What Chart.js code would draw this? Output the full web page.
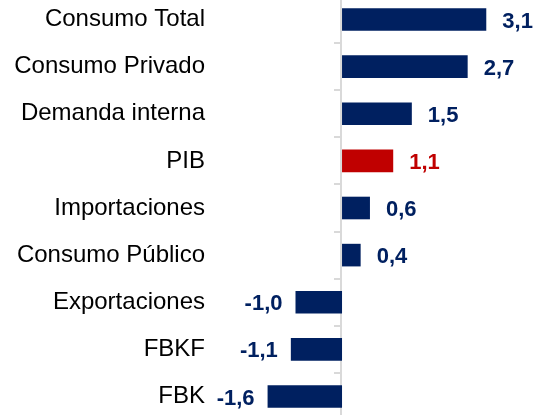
<!DOCTYPE html>
<html lang="es">
<head>
<meta charset="utf-8">
<title>Contribuciones</title>
<script src="https://cdn.jsdelivr.net/npm/chart.js@4/dist/chart.umd.min.js"></script>
<style>
  html, body { margin: 0; padding: 0; background: #fff; overflow: hidden; }
  #wrap { position: absolute; left: 0; top: -4px; width: 537px; height: 424px; }
</style>
</head>
<body>
<div id="wrap"><canvas id="grafico" width="537" height="424"></canvas></div>
<script>
// Datos del gráfico
const categorias = ['Consumo Total', 'Consumo Privado', 'Demanda interna', 'PIB', 'Importaciones',
  'Consumo Público', 'Exportaciones', 'FBKF', 'FBK'];
const valores = [3.1, 2.7, 1.5, 1.1, 0.6, 0.4, -1.0, -1.1, -1.6];
const destacado = 'PIB';

const azul = '#002060';
const rojo = '#C00000';
const colores = categorias.map(c => c === destacado ? rojo : azul);

// Eje en cero con marcas pequeñas entre categorías
const ejeCero = {
  id: 'ejeCero',
  beforeDatasetsDraw(chart) {
    const { ctx, chartArea, scales: { x, y } } = chart;
    const x0 = Math.round(x.getPixelForValue(0)) - 1;
    ctx.save();
    ctx.strokeStyle = '#D9D9D9';
    ctx.lineWidth = 2;
    ctx.beginPath();
    ctx.moveTo(x0, chartArea.top);
    ctx.lineTo(x0, chartArea.bottom);
    const paso = y.getPixelForValue(1) - y.getPixelForValue(0);
    for (let i = 0; i < categorias.length - 1; i++) {
      const yy = Math.round(y.getPixelForValue(i) + paso / 2);
      ctx.moveTo(x0 - 7, yy);
      ctx.lineTo(x0, yy);
    }
    ctx.stroke();
    ctx.restore();
  }
};

// Etiquetas de valor junto a cada barra
const etiquetas = {
  id: 'etiquetas',
  afterDatasetsDraw(chart) {
    const { ctx } = chart;
    const barras = chart.getDatasetMeta(0).data;
    ctx.save();
    ctx.font = 'bold 22px "Liberation Sans", Arial, sans-serif';
    ctx.textBaseline = 'middle';
    barras.forEach((barra, i) => {
      const v = valores[i];
      const texto = v.toFixed(1).replace('.', ',');
      ctx.fillStyle = colores[i];
      if (v >= 0) {
        ctx.textAlign = 'left';
        ctx.fillText(texto, barra.x + 16, barra.y + 2);
      } else {
        ctx.textAlign = 'right';
        ctx.fillText(texto, barra.x - 13, barra.y + 2);
      }
    });
    ctx.restore();
  }
};

new Chart(document.querySelector('#grafico'), {
  type: 'bar',
  data: {
    labels: categorias,
    datasets: [{
      data: valores,
      backgroundColor: colores,
      borderWidth: 0,
      barPercentage: 0.48,
      categoryPercentage: 1
    }]
  },
  options: {
    indexAxis: 'y',
    responsive: false,
    animation: false,
    layout: { padding: 0 },
    plugins: {
      legend: { display: false },
      tooltip: { enabled: false }
    },
    scales: {
      x: {
        display: false,
        min: -2.73,
        max: 4.19
      },
      y: {
        afterFit: (scale) => {
          scale.width = 215;
          scale.paddingTop = 0;
          scale.paddingBottom = 0;
        },
        grid: { display: false, drawTicks: false },
        border: { display: false },
        ticks: {
          color: '#000000',
          padding: 10,
          font: { family: '"Liberation Sans", Arial, sans-serif', size: 24 }
        }
      }
    }
  },
  plugins: [ejeCero, etiquetas]
});
</script>
</body>
</html>
